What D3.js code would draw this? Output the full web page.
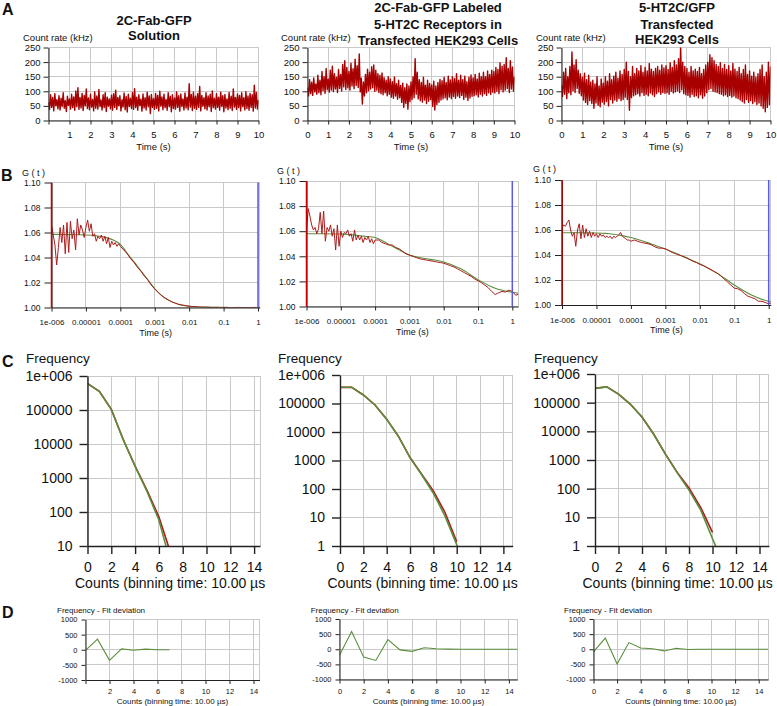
<!DOCTYPE html>
<html><head><meta charset="utf-8">
<script src="https://cdn.jsdelivr.net/npm/d3@7/dist/d3.min.js"></script>
<style>
body{margin:0;background:#fff}
svg{display:block}
</style></head><body>
<svg id="c" width="777" height="706"></svg>
<script>
// ---------------- DATA ----------------
const titles = [["2C-Fab-GFP","Solution"],["2C-Fab-GFP Labeled","5-HT2C Receptors in","Transfected HEK293 Cells"],["5-HT2C/GFP","Transfected","HEK293 Cells"]];
const panelLetters = ["A","B","C","D"];

// A: count-rate traces (kHz), uniform samples from 0 to 10 s
const timeTicks = [0,1,2,3,4,5,6,7,8,9,10];
const timeTickLabelsFirst = ["","1","2","3","4","5","6","7","8","9","10"];
const timeTickLabels = ["0","1","2","3","4","5","6","7","8","9","10"];
const rateTicks = [0,50,100,150,200,250];
const countRate1 = [62,38,88,45,79,33,92,50,71,40, 85,36,76,48,95,42,68,31,83,52, 74,39,90,44,81,35,101,47,112,38, 79,43,93,34,86,50,108,41,77,37, 90,46,72,33,98,42,84,39,106,48, 70,36,88,44,95,31,80,49,74,40, 87,35,92,45,104,38,79,50,85,33, 71,46,94,37,82,29,90,48,76,41, 96,38,109,44,80,35,88,51,73,32, 91,43,78,36,97,47,84,24,89,45, 75,38,93,42,86,33,100,49,81,37, 90,44,72,35,95,47,83,30,88,41, 77,39,98,45,85,32,91,48,74,36, 94,43,80,37,126,46,89,34,97,42, 83,38,92,45,117,33,86,49,78,40, 95,36,84,47,90,31,101,44,76,39, 92,45,80,35,97,48,85,30,89,43, 74,37,96,42,83,34,108,46,79,38, 91,44,86,33,95,47,78,36,99,41, 84,35,93,45,88,32,121,43,96,39, 70];
const countRate2 = [112,84,140,92,131,86,146,98,125,90, 155,95,138,88,168,102,150,93,178,105, 142,97,172,104,186,99,160,108,148,96, 175,110,158,101,192,115,205,106,182,112, 168,104,196,118,177,109,210,120,188,113, 228,98,145,56,132,84,158,95,176,102, 165,108,184,112,190,100,172,104,160,96, 155,92,163,88,147,95,138,85,150,90, 142,80,133,76,149,84,126,73,138,78, 120,62,128,45,112,58,125,39,118,64, 132,72,150,78,212,90,165,74,140,68, 130,63,148,70,121,58,138,66,127,72, 122,48,135,36,118,55,130,62,141,70, 136,74,148,78,130,71,152,80,139,75, 150,82,143,76,160,84,138,79,155,86, 140,72,152,80,133,69,148,77,156,83, 146,85,158,88,142,81,162,90,150,84, 165,92,150,86,170,95,158,89,172,97, 168,94,182,100,175,92,198,105,186,98, 192,104,215,110,178,96,205,108,183,100, 150];
const countRate3 = [120,82,165,90,178,75,150,95,185,88, 235,102,190,96,208,110,172,93,160,85, 148,70,162,62,140,55,155,68,132,58, 138,42,125,60,150,52,118,47,142,63, 128,56,150,65,135,50,160,72,140,60, 152,70,165,66,145,75,170,68,158,72, 175,80,200,72,168,35,150,78,185,85, 160,88,178,92,170,84,188,95,165,86, 182,90,170,85,195,94,176,88,168,82, 178,92,185,98,172,90,190,96,180,93, 188,95,175,90,198,100,182,94,205,98, 190,102,212,96,255,105,200,92,185,88, 178,86,165,80,185,90,170,82,176,85, 168,78,182,88,160,76,175,84,190,95, 200,105,225,110,215,100,205,98,192,96, 185,92,198,90,178,85,192,88,175,82, 188,86,170,80,195,84,176,78,168,75, 182,70,160,65,175,60,190,72,158,62, 170,68,152,58,165,64,148,55,160,60, 175,50,190,42,150,30,165,45,200,55, 185];

// B: autocorrelation G(t); lag times given as log10(seconds)
const tauExp = [-6.00,-5.95,-5.90,-5.85,-5.80,-5.75,-5.70,-5.65,-5.60,-5.55,-5.50,-5.45,-5.40,-5.35,-5.30,-5.25,-5.20,-5.15,-5.10,-5.05,-5.00,-4.95,-4.90,-4.85,-4.80,-4.75,-4.70,-4.65,-4.60,-4.55,-4.50,-4.45,-4.40,-4.35,-4.30,-4.25,-4.20,-4.15,-4.10,-4.05,-4.00,
 -3.9,-3.8,-3.7,-3.6,-3.5,-3.4,-3.3,-3.2,-3.1,-3.0,-2.9,-2.8,-2.7,-2.6,-2.5,-2.4,-2.3,-2.2,-2.1,-2.0,-1.9,-1.8,-1.7,-1.6,-1.5,-1.4,-1.3,-1.2,-1.1,-1.0,-0.9,-0.8,-0.7,-0.6,-0.5,-0.4,-0.3,-0.2,-0.1,0.0,0.1,0.2];
const gData1 = [1.066,1.058,1.050,1.034,1.048,1.064,1.052,1.066,1.043,1.068,1.044,1.069,1.055,1.062,1.046,1.071,1.058,1.066,1.062,1.056,1.064,1.070,1.061,1.067,1.057,1.059,1.053,1.057,1.055,1.058,1.053,1.057,1.051,1.056,1.048,1.053,1.050,1.052,1.049,1.051,1.049,
 1.046,1.043,1.039,1.036,1.032,1.029,1.025,1.022,1.018,1.015,1.012,1.0095,1.0075,1.006,1.0045,1.0035,1.0025,1.002,1.0015,1.001,1.0008,1.0006,1.0004,1.0003,1.0002,1.0001,1.0,1.0002,0.9999,1.0,1.0001,0.9999,1.0,1.0001,1.0,1.0,0.9999,1.0,1.0001,1.0,1.0,1.0];
const gData2 = [1.060,1.078,1.072,1.065,1.061,1.063,1.058,1.062,1.075,1.058,1.076,1.052,1.063,1.060,1.065,1.056,1.062,1.045,1.065,1.048,1.060,1.055,1.059,1.058,1.061,1.056,1.058,1.052,1.061,1.053,1.057,1.053,1.056,1.051,1.055,1.053,1.056,1.051,1.054,1.050,1.053,
 1.053,1.051,1.050,1.049,1.049,1.047,1.046,1.044,1.042,1.041,1.040,1.039,1.038,1.0375,1.037,1.0365,1.036,1.0355,1.035,1.0345,1.0335,1.0325,1.0315,1.030,1.0285,1.027,1.0255,1.024,1.022,1.0205,1.019,1.017,1.015,1.012,1.0095,1.011,1.012,1.0115,1.013,1.012,1.009,1.010];
const gData3 = [1.062,1.064,1.063,1.066,1.068,1.060,1.055,1.058,1.047,1.060,1.065,1.053,1.064,1.054,1.061,1.055,1.059,1.054,1.058,1.055,1.057,1.054,1.057,1.055,1.056,1.054,1.055,1.054,1.055,1.053,1.055,1.054,1.055,1.056,1.058,1.055,1.054,1.053,1.052,1.052,1.051,
 1.052,1.051,1.050,1.0495,1.049,1.048,1.0465,1.0455,1.0455,1.045,1.0435,1.042,1.041,1.040,1.039,1.038,1.0365,1.035,1.034,1.0325,1.0315,1.030,1.0285,1.027,1.0255,1.0235,1.021,1.0185,1.016,1.0135,1.013,1.0115,1.009,1.007,1.006,1.005,1.003,1.003,1.002,1.001,1.002,1.002];
const fitExp = [-6,-5.5,-5,-4.75,-4.5,-4.25,-4,-3.75,-3.5,-3.25,-3,-2.75,-2.5,-2.25,-2,-1.5,-1,-0.5,0,0.2];
const gFit1 = [1.0585,1.0584,1.0580,1.0575,1.0565,1.0545,1.0505,1.0415,1.033,1.024,1.015,1.0085,1.0045,1.002,1.001,1.0003,1.0001,1.0,1.0,1.0];
const gFit2 = [1.058,1.058,1.0578,1.0573,1.0566,1.0558,1.055,1.0518,1.048,1.0445,1.041,1.0393,1.038,1.037,1.0355,1.030,1.0214,1.0145,1.0113,1.0105];
const gFit3 = [1.0578,1.0578,1.0576,1.0573,1.0566,1.0555,1.054,1.052,1.0497,1.0472,1.0448,1.042,1.039,1.036,1.033,1.0255,1.016,1.008,1.003,1.0025];
const lagTicks = [1e-6,1e-5,1e-4,1e-3,1e-2,1e-1,1];
const lagTickLabels = ["1e-006","0.00001","0.0001","0.001","0.01","0.1","1"];
const gTicks = [1.00,1.02,1.04,1.06,1.08,1.10];

// C: photon counting histograms
const photonCounts = [0,1,2,3,4,5,6,7,8,9,10,11,12,13,14,15];
const pchData1 = [600000,352000,104000,13600,2250,430,72,6];
const pchFit1  = [610000,350000,105000,13500,2200,400,58,3];
const pchData2 = [368000,372000,199000,89000,28300,7100,1270,330,85,15,1.4];
const pchFit2  = [370000,370000,200000,89000,28000,7100,1260,316,71,11.2,1.12,0.13];
const pchData3 = [318000,356000,199000,89500,31700,7900,1600,370,105,22,3];
const pchFit3  = [316000,355000,200000,89000,31600,7900,1580,355,89,17.8,1.78,0.2];
const freqTicks1 = [10,100,1000,10000,100000,1000000];
const freqTickLabels1 = ["10","100","1000","10000","100000","1e+006"];
const freqTicks = [1,10,100,1000,10000,100000,1000000];
const freqTickLabels = ["1","10","100","1000","10000","100000","1e+006"];
const countTicks = [0,2,4,6,8,10,12,14];
const countTickLabels = ["0","2","4","6","8","10","12","14"];
const countTickLabelsFirst = ["","2","4","6","8","10","12","14"];

// D: fit deviation
const dev1 = [-20,350,-350,30,-15,20,0,0];
const dev2 = [-200,590,-260,-370,320,-20,-70,50,15,5,0,0,0,0,0,0];
const dev3 = [-90,370,-490,220,40,15,-55,35,-10,0,0,0,0,0,0,0];
const devTicks = [-1000,-500,0,500,1000];
const devTickLabels = ["-1000","-500","0","500","1000"];

// ---------------- DRAWING ----------------
const FONT = '"Liberation Sans", Arial, Helvetica, sans-serif';
const GRID = "#c9c9c9", AX = "#222", GREEN = "#5b8e3c", RED = "#ad1c1c", TRACE = "#a80000";
const svg = d3.select("#c").attr("font-family", FONT);
let clipId = 0;

function frame(xs, ys, xg, yg){
  const g = svg.append("g").attr("shape-rendering","crispEdges");
  const [xa,xb] = xs.range(), [ya,yb] = ys.range();
  g.selectAll(null).data(xg).join("line").attr("x1",d=>xs(d)).attr("x2",d=>xs(d)).attr("y1",ya).attr("y2",yb).attr("stroke",GRID);
  g.selectAll(null).data(yg).join("line").attr("y1",d=>ys(d)).attr("y2",d=>ys(d)).attr("x1",xa).attr("x2",xb).attr("stroke",GRID);
  g.append("line").attr("x1",xb).attr("x2",xb).attr("y1",ya).attr("y2",yb).attr("stroke",GRID);
  g.append("line").attr("x1",xa).attr("x2",xb).attr("y1",yb).attr("y2",yb).attr("stroke",GRID);
}
function clip(xs, ys){
  const id = "clip" + (clipId++);
  const [xa,xb] = xs.range(), [ya,yb] = ys.range();
  svg.append("clipPath").attr("id",id).append("rect").attr("x",xa).attr("y",yb).attr("width",xb-xa).attr("height",ya-yb);
  return "url(#"+id+")";
}
function style(sel, o){
  sel.attr("font-family",FONT).attr("font-size",o.fs);
  sel.select(".domain").attr("stroke",AX).attr("stroke-width",o.sw||1);
  sel.selectAll(".tick line").attr("stroke",AX).attr("stroke-width",o.sw||1);
  sel.selectAll(".tick text").attr("fill","#111");
}
function axisX(xs, y, vals, labels, o){
  svg.append("g").attr("transform",`translate(0,${y})`)
    .call(d3.axisBottom(xs).tickValues(vals).tickFormat((d,i)=>labels[i]).tickSize(o.ts).tickPadding(o.tp).tickSizeOuter(0))
    .call(s=>style(s,o));
}
function axisY(ys, x, vals, labels, o){
  svg.append("g").attr("transform",`translate(${x},0)`)
    .call(d3.axisLeft(ys).tickValues(vals).tickFormat((d,i)=>labels[i]).tickSize(o.ts).tickPadding(o.tp).tickSizeOuter(0))
    .call(s=>style(s,o));
}
function label(x, y, txt, fs, anchor, weight){
  svg.append("text").attr("x",x).attr("y",y).attr("dominant-baseline","central")
    .attr("text-anchor",anchor||"start").attr("font-size",fs).attr("font-weight",weight||"normal")
    .attr("fill","#111").text(txt);
}

// panel letters
[[2,9],[1,175],[2,361],[2,612]].forEach((p,i)=>label(p[0],p[1],panelLetters[i],16,"start","bold"));

// ---------- Row A ----------
const aGeom = [{x0:48.5,x1:258.5,tx:154,ty:[20.7,35.3],cr:23},{x0:307.5,x1:514.5,tx:438,ty:[7.3,24,40],cr:281},{x0:561.5,x1:770.5,tx:677,ty:[7.3,24,39.3],cr:536}];
const traces = [countRate1,countRate2,countRate3];
aGeom.forEach((G,c)=>{
  const xs = d3.scaleLinear().domain([0,10]).range([G.x0,G.x1]);
  const ys = d3.scaleLinear().domain([0,250]).range([120.5,47.5]);
  frame(xs, ys, timeTicks, rateTicks);
  const data = traces[c], n = data.length;
  svg.append("path").attr("clip-path",clip(xs,ys)).datum(data)
    .attr("d", d3.line().x((d,i)=>xs(i*10/(n-1))).y(d=>ys(d)))
    .attr("fill","none").attr("stroke",TRACE).attr("stroke-width",1.4).attr("stroke-linejoin","round");
  axisX(xs, 120.5, timeTicks, c===0?timeTickLabelsFirst:timeTickLabels, {ts:4,tp:7,fs:9.5});
  axisY(ys, G.x0, rateTicks, rateTicks.map(String), {ts:5,tp:3,fs:9.5});
  titles[c].forEach((t,i)=>label(G.tx, G.ty[i], t, 13, "middle", "bold"));
  label(G.cr, 37.5, "Count rate (kHz)", 9.5);
  label((G.x0+G.x1)/2, 146, "Time (s)", 9.5, "middle");
});

// ---------- Row B ----------
const bGeom = [{x0:51.5,xOne:258,ext:0.05,yb:307.5,yt:182.5,gx:22,gy:173,ty:332.7},
               {x0:306.5,xOne:512.3,ext:0.17,yb:306.5,yt:181,gx:277,gy:171,ty:331.7},
               {x0:562,xOne:768.7,ext:0.06,yb:305,yt:180,gx:533,gy:169,ty:330}];
const gDatas = [gData1,gData2,gData3], gFits = [gFit1,gFit2,gFit3];
bGeom.forEach((G,c)=>{
  const base = d3.scaleLog().domain([1e-6,1]).range([G.x0,G.xOne]);
  const xEnd = base(Math.pow(10,G.ext));
  const xs = d3.scaleLog().domain([1e-6,Math.pow(10,G.ext)]).range([G.x0,xEnd]);
  const ys = d3.scaleLinear().domain([1.00,1.10]).range([G.yb,G.yt]);
  frame(xs, ys, lagTicks, gTicks);
  const cp = clip(xs, ys);
  svg.append("path").attr("clip-path",cp).datum(fitExp.map((e,i)=>[Math.pow(10,e),gFits[c][i]]))
    .attr("d", d3.line().curve(d3.curveMonotoneX).x(d=>xs(d[0])).y(d=>ys(d[1])))
    .attr("fill","none").attr("stroke",GREEN).attr("stroke-width",1.1);
  svg.append("path").attr("clip-path",cp).datum(tauExp.map((e,i)=>[Math.pow(10,e),gDatas[c][i]]))
    .attr("d", d3.line().x(d=>xs(d[0])).y(d=>ys(d[1])))
    .attr("fill","none").attr("stroke",RED).attr("stroke-width",1);
  axisX(xs, G.yb, lagTicks, lagTickLabels, {ts:4,tp:8,fs:8});
  axisY(ys, G.x0, gTicks, gTicks.map(d3.format(".2f")), {ts:7,tp:4,fs:8.5});
  // cursor lines
  svg.append("line").attr("x1",xs(1e-6)).attr("x2",xs(1e-6)).attr("y1",G.yb).attr("y2",G.yt).attr("stroke","#c40000").attr("stroke-width",1.5);
  svg.append("line").attr("x1",xs(1)).attr("x2",xs(1)).attr("y1",G.yb).attr("y2",G.yt).attr("stroke","#5a5ae6").attr("stroke-width",1.5);
  label(G.gx, G.gy, "G ( t )", 9);
  label((G.x0+xEnd)/2, G.ty, "Time (s)", 9, "middle");
});

// ---------- Row C ----------
const cGeom = [{x0:87.5,ppu:11.9,dmax:14.5,ymin:10,yt:376,fx:26},
               {x0:340,ppu:11.67,dmax:14.8,ymin:1,yt:375,fx:278},
               {x0:595,ppu:11.75,dmax:14.8,ymin:1,yt:374,fx:534}];
const pchDatas = [pchData1,pchData2,pchData3], pchFits = [pchFit1,pchFit2,pchFit3];
cGeom.forEach((G,c)=>{
  const xs = d3.scaleLinear().domain([0,G.dmax]).range([G.x0,G.x0+G.dmax*G.ppu]);
  const ys = d3.scaleLog().domain([G.ymin,1e6]).range([546,G.yt]);
  const yt = c===0?freqTicks1:freqTicks, yl = c===0?freqTickLabels1:freqTickLabels;
  frame(xs, ys, countTicks, yt);
  const cp = clip(xs, ys);
  const line = d3.line().x((d,i)=>xs(photonCounts[i])).y(d=>ys(d));
  svg.append("path").attr("clip-path",cp).datum(pchDatas[c]).attr("d",line)
    .attr("fill","none").attr("stroke","#b01818").attr("stroke-width",1.6);
  svg.append("path").attr("clip-path",cp).datum(pchFits[c]).attr("d",line)
    .attr("fill","none").attr("stroke",GREEN).attr("stroke-width",1.6);
  axisX(xs, 546, countTicks, countTickLabels, {ts:8,tp:8,fs:14,sw:1.4});
  axisY(ys, G.x0, yt, yl, {ts:8,tp:7,fs:14,sw:1.4});
  label(G.fx, 358, "Frequency", 13.5);
  label(G.x0-12.5, 583, "Counts (binning time: 10.00 µs", 14);
});

// ---------- Row D ----------
const dGeom = [{x0:85.5,ppu:12,dmax:14.5,yb:680,yt:619.5,fx:57},
               {x0:339.5,ppu:12.1,dmax:14.7,yb:679.5,yt:619,fx:310.7},
               {x0:593.5,ppu:11.8,dmax:14.8,yb:679.5,yt:619,fx:564}];
const devs = [dev1,dev2,dev3];
dGeom.forEach((G,c)=>{
  const xs = d3.scaleLinear().domain([0,G.dmax]).range([G.x0,G.x0+G.dmax*G.ppu]);
  const ys = d3.scaleLinear().domain([-1000,1000]).range([G.yb,G.yt]);
  frame(xs, ys, countTicks, devTicks);
  svg.append("path").attr("clip-path",clip(xs,ys)).datum(devs[c])
    .attr("d", d3.line().x((d,i)=>xs(photonCounts[i])).y(d=>ys(d)))
    .attr("fill","none").attr("stroke",GREEN).attr("stroke-width",1.1);
  axisX(xs, G.yb, countTicks, c===0?countTickLabelsFirst:countTickLabels, {ts:4,tp:5,fs:7.5});
  axisY(ys, G.x0, devTicks, devTickLabels, {ts:4,tp:4,fs:7.5});
  label(G.fx, 610.7, "Frequency - Fit deviation", 8);
  label((G.x0+G.x0+G.dmax*G.ppu)/2, 701.2, "Counts (binning time: 10.00 µs)", 8, "middle");
});
</script>
</body></html>
